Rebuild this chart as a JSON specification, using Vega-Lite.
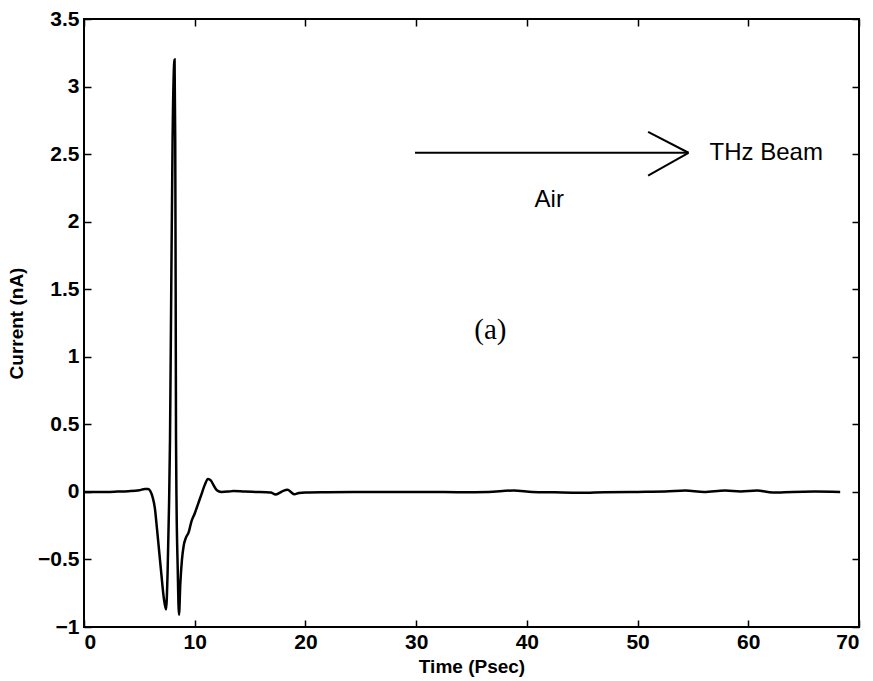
{
  "$schema": "https://vega.github.io/schema/vega-lite/v6.json",
  "autosize": {"type": "none"},
  "width": 775,
  "height": 608,
  "padding": {"left": 84, "top": 19, "right": 14, "bottom": 54},
  "background": "white",
  "config": {
    "view": {"stroke": "black", "strokeWidth": 2},
    "font": "Liberation Sans",
    "axis": {"grid": false, "domain": false, "tickColor": "black", "tickWidth": 1.5, "labelColor": "black", "titleColor": "black", "labelFontSize": 21, "labelFontWeight": "bold", "titleFontSize": 19, "titleFontWeight": "bold"}
  },
  "resolve": {"axis": {"x": "independent", "y": "independent"}},
  "layer": [
    {
      "data": {"values": [
        {"t": 0, "c": 0.0}, {"t": 1, "c": 0.0}, {"t": 2, "c": 0.0}, {"t": 3, "c": 0.002}, {"t": 4, "c": 0.005},
        {"t": 5, "c": 0.012}, {"t": 5.5, "c": 0.022}, {"t": 5.8, "c": 0.022}, {"t": 6.0, "c": 0.005},
        {"t": 6.2, "c": -0.04}, {"t": 6.4, "c": -0.12}, {"t": 6.6, "c": -0.28}, {"t": 6.8, "c": -0.45},
        {"t": 7.0, "c": -0.62}, {"t": 7.2, "c": -0.78}, {"t": 7.41, "c": -0.87}, {"t": 7.55, "c": -0.6},
        {"t": 7.68, "c": -0.1}, {"t": 7.77, "c": 0.4}, {"t": 7.88, "c": 1.5}, {"t": 8.0, "c": 2.6},
        {"t": 8.18, "c": 3.2}, {"t": 8.24, "c": 2.6}, {"t": 8.28, "c": 1.5}, {"t": 8.31, "c": 0.4},
        {"t": 8.36, "c": -0.1}, {"t": 8.46, "c": -0.55}, {"t": 8.58, "c": -0.91}, {"t": 8.7, "c": -0.68}, {"t": 8.85, "c": -0.5},
        {"t": 9.0, "c": -0.4}, {"t": 9.2, "c": -0.34}, {"t": 9.45, "c": -0.3}, {"t": 9.7, "c": -0.22},
        {"t": 10.0, "c": -0.16}, {"t": 10.3, "c": -0.09}, {"t": 10.6, "c": -0.02}, {"t": 10.9, "c": 0.05},
        {"t": 11.2, "c": 0.095}, {"t": 11.45, "c": 0.085}, {"t": 11.7, "c": 0.05}, {"t": 12.0, "c": 0.012},
        {"t": 12.4, "c": 0.0}, {"t": 13.0, "c": 0.002}, {"t": 13.5, "c": 0.006}, {"t": 14.5, "c": 0.002},
        {"t": 15.5, "c": 0.0}, {"t": 16.5, "c": -0.002}, {"t": 16.9, "c": -0.005}, {"t": 17.3, "c": -0.02},
        {"t": 17.7, "c": -0.005}, {"t": 18.0, "c": 0.008}, {"t": 18.4, "c": 0.015}, {"t": 18.7, "c": -0.002},
        {"t": 19.0, "c": -0.018}, {"t": 19.4, "c": -0.008}, {"t": 20.0, "c": -0.004}, {"t": 22, "c": -0.002},
        {"t": 25, "c": 0.0}, {"t": 28, "c": 0.0}, {"t": 31, "c": 0.0}, {"t": 34, "c": -0.002},
        {"t": 36.5, "c": 0.0}, {"t": 38.8, "c": 0.01}, {"t": 40.5, "c": 0.0}, {"t": 42.5, "c": -0.003},
        {"t": 44.8, "c": -0.006}, {"t": 47, "c": -0.002}, {"t": 50, "c": 0.0}, {"t": 52.5, "c": 0.002},
        {"t": 54.3, "c": 0.01}, {"t": 56, "c": 0.0}, {"t": 57.9, "c": 0.01}, {"t": 59.3, "c": 0.003},
        {"t": 60.8, "c": 0.01}, {"t": 62.2, "c": -0.005}, {"t": 64, "c": 0.0}, {"t": 66, "c": 0.002},
        {"t": 68.3, "c": 0.0}
      ]},
      "mark": {"type": "line", "color": "black", "strokeWidth": 2.5, "interpolate": "monotone"},
      "encoding": {
        "x": {"field": "t", "type": "quantitative", "scale": {"domain": [0, 70], "nice": false},
          "axis": {"orient": "bottom", "values": [0, 10, 20, 30, 40, 50, 60, 70], "tickSize": -7, "labelPadding": 11, "title": "Time (Psec)", "titlePadding": 5}},
        "y": {"field": "c", "type": "quantitative", "scale": {"domain": [-1, 3.5], "nice": false, "zero": false},
          "axis": {"orient": "left", "values": [-1, -0.5, 0, 0.5, 1, 1.5, 2, 2.5, 3, 3.5], "format": "~g", "tickSize": -7, "labelPadding": 12, "title": "Current (nA)", "titlePadding": 11}}
      }
    },
    {
      "data": {"values": [
        {"x1": 29.9, "y1": 2.51, "x2": 54.6, "y2": 2.51},
        {"x1": 50.95, "y1": 2.665, "x2": 54.6, "y2": 2.51},
        {"x1": 50.95, "y1": 2.34, "x2": 54.6, "y2": 2.51}
      ]},
      "mark": {"type": "rule", "color": "black", "strokeWidth": 2},
      "encoding": {
        "x": {"field": "x1", "type": "quantitative", "axis": {"orient": "top", "values": [0, 10, 20, 30, 40, 50, 60, 70], "tickSize": -7, "labels": false, "title": null}},
        "y": {"field": "y1", "type": "quantitative", "axis": {"orient": "right", "values": [-1, -0.5, 0, 0.5, 1, 1.5, 2, 2.5, 3, 3.5], "tickSize": -7, "labels": false, "title": null}},
        "x2": {"field": "x2"},
        "y2": {"field": "y2"}
      }
    },
    {
      "data": {"values": [
        {"x": 56.5, "y": 2.51, "label": "THz Beam"},
        {"x": 40.7, "y": 2.16, "label": "Air"}
      ]},
      "mark": {"type": "text", "align": "left", "baseline": "middle", "fontSize": 24, "color": "black", "font": "Liberation Sans"},
      "encoding": {
        "x": {"field": "x", "type": "quantitative", "axis": null},
        "y": {"field": "y", "type": "quantitative", "axis": null},
        "text": {"field": "label"}
      }
    },
    {
      "data": {"values": [{"x": 36.7, "y": 1.2, "label": "(a)"}]},
      "mark": {"type": "text", "align": "center", "baseline": "middle", "fontSize": 29, "color": "black", "font": "Liberation Serif"},
      "encoding": {
        "x": {"field": "x", "type": "quantitative", "axis": null},
        "y": {"field": "y", "type": "quantitative", "axis": null},
        "text": {"field": "label"}
      }
    }
  ]
}
